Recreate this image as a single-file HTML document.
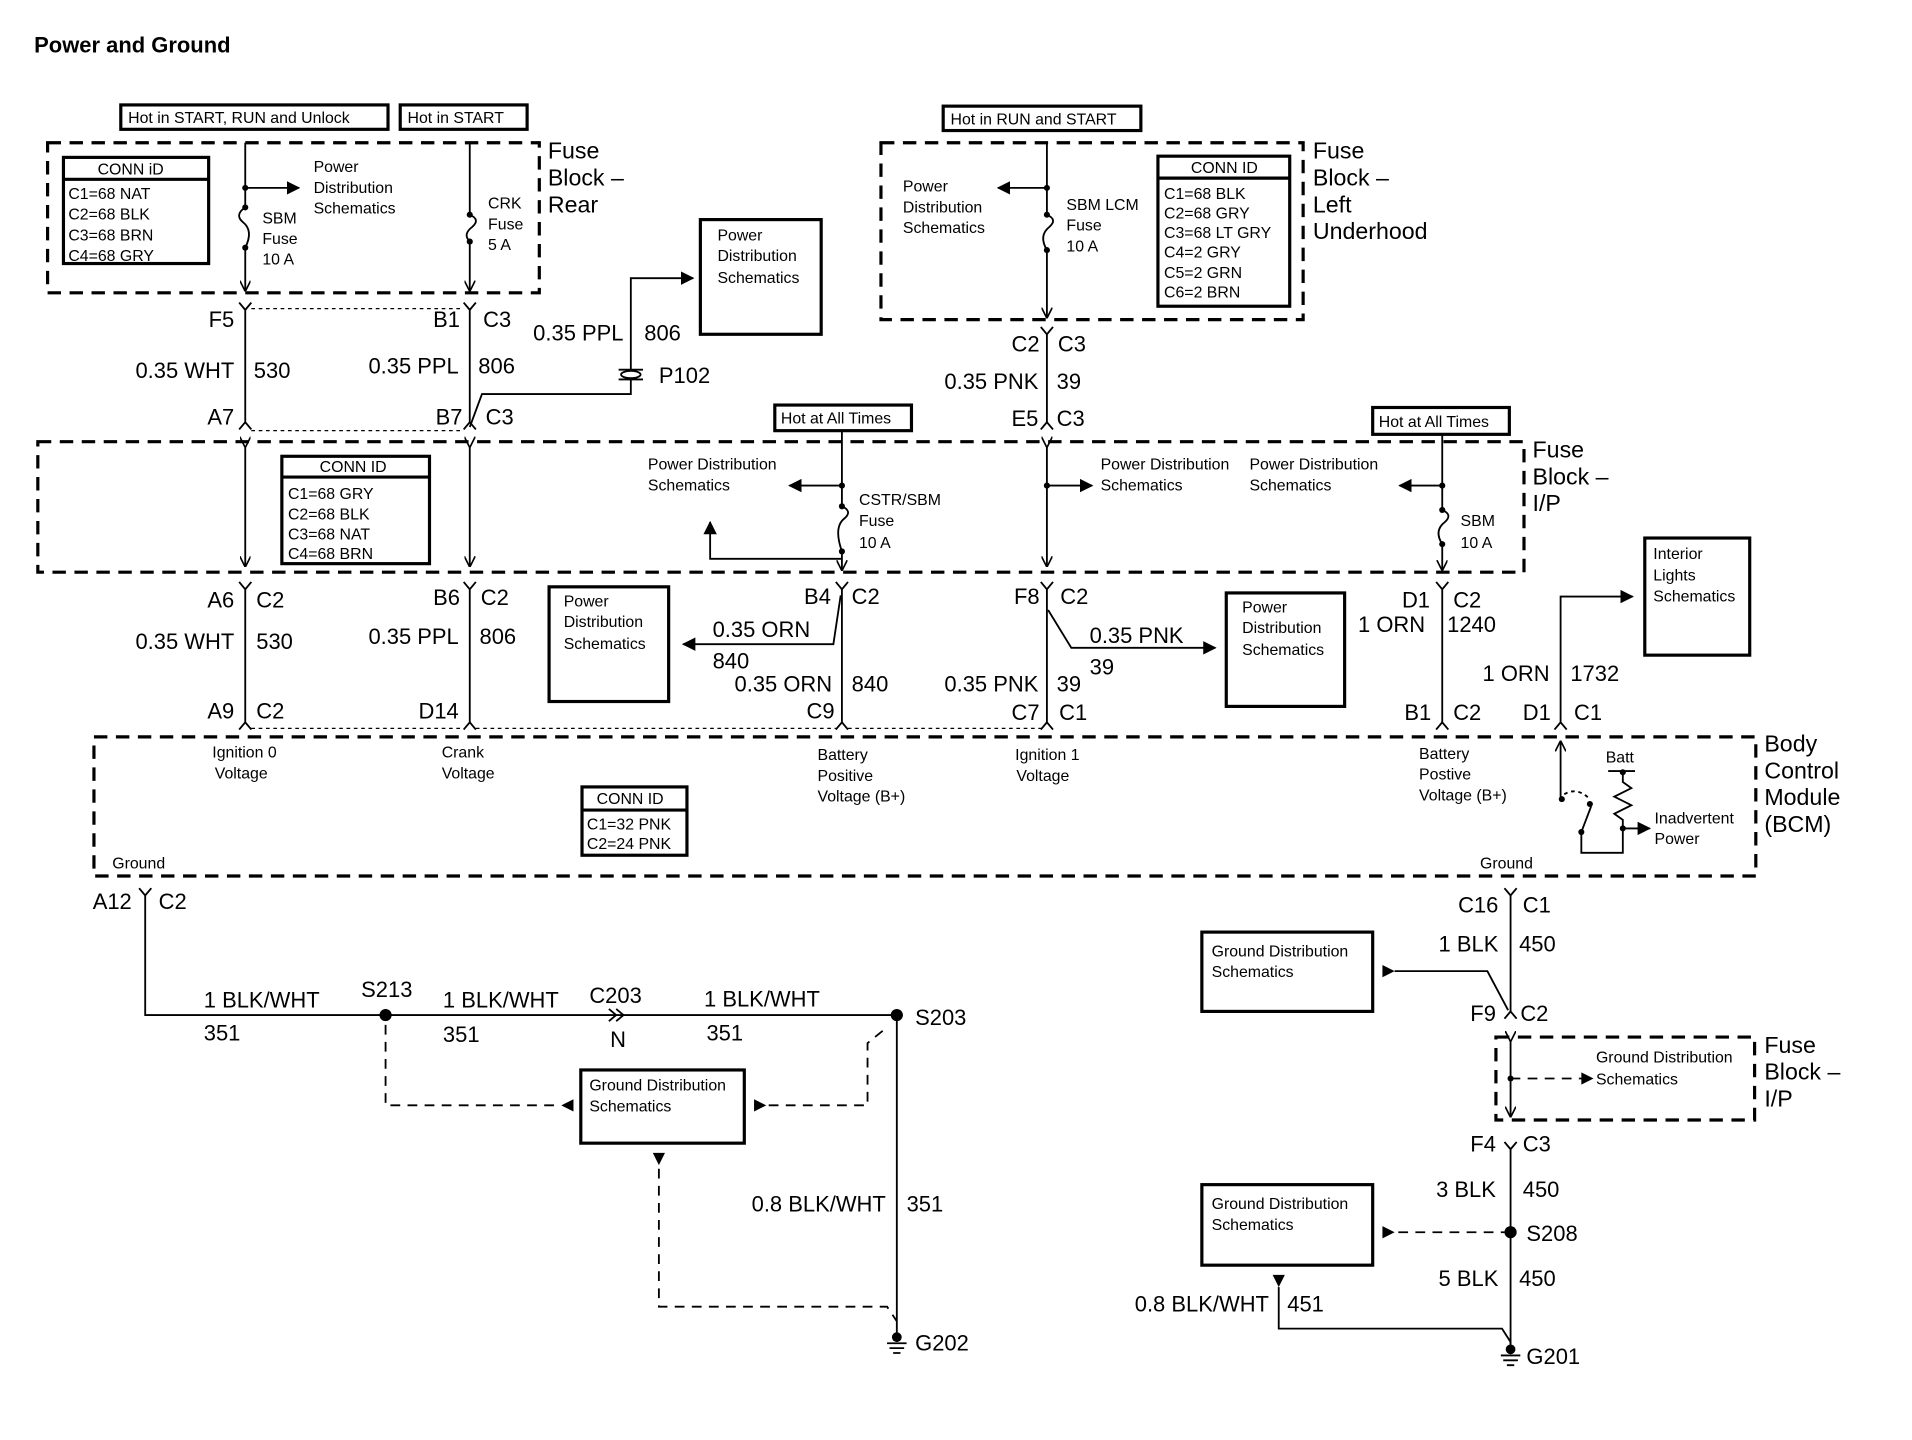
<!DOCTYPE html>
<html><head><meta charset="utf-8"><style>
html,body{margin:0;padding:0;background:#fff;}
svg{display:block;}
text{font-family:"Liberation Sans",Arial,sans-serif;fill:#000;}
.s{font-size:13px;}
.m{font-size:18px;}
.b{font-size:19px;}
.w{stroke:#000;stroke-width:1.5;fill:none;}
.bx{stroke:#000;stroke-width:2.6;fill:none;}
.d{stroke:#000;stroke-width:2.6;fill:none;stroke-dasharray:11 7;}
.dt{stroke:#000;stroke-width:1;fill:none;stroke-dasharray:3 3;}
.dw{stroke:#000;stroke-width:1.5;fill:none;stroke-dasharray:8 6;}
.r{text-anchor:end;}
</style></head><body>
<svg width="1912" height="1440" viewBox="0 0 1567 1180.3" preserveAspectRatio="none" xmlns="http://www.w3.org/2000/svg">
<defs>
<marker id="a" viewBox="0 0 10 10" refX="9" refY="5" markerWidth="11" markerHeight="11" markerUnits="userSpaceOnUse" orient="auto"><path d="M0,0L10,5L0,10z" fill="#000"/></marker>
<marker id="o" viewBox="0 0 10 10" refX="9" refY="5" markerWidth="9" markerHeight="9" markerUnits="userSpaceOnUse" orient="auto"><path d="M0,0L10,5L0,10" fill="none" stroke="#000" stroke-width="1.5"/></marker>
</defs>
<text x="28" y="43" style="font-size:18px;font-weight:bold">Power and Ground</text>

<!-- top left -->
<rect class="bx" x="99" y="86" width="219" height="20"/><text class="s" x="105" y="101">Hot in START, RUN and Unlock</text>
<rect class="bx" x="328" y="86" width="104" height="20"/><text class="s" x="334" y="101">Hot in START</text>
<rect class="d" x="39" y="117" width="403" height="123"/>
<text class="b" x="449" y="130">Fuse</text><text class="b" x="449" y="152">Block –</text><text class="b" x="449" y="174">Rear</text>
<rect class="bx" x="52" y="129" width="119" height="87"/><line class="bx" x1="52" y1="147" x2="171" y2="147"/>
<text class="s" x="80" y="143">CONN iD</text>
<text class="s" x="56" y="163">C1=68 NAT</text><text class="s" x="56" y="180">C2=68 BLK</text><text class="s" x="56" y="197">C3=68 BRN</text><text class="s" x="56" y="214">C4=68 GRY</text>
<path class="w" d="M201,117V170 M201,203V238" marker-end="url(#o)"/>
<path class="w" d="M201,170 q-9,6 -2,12 q9,7 2,21"/>
<circle cx="201" cy="170" r="2.5"/><circle cx="201" cy="203" r="2.5"/><circle cx="201" cy="154" r="2.5"/>
<path class="w" d="M201,154H245" marker-end="url(#a)"/>
<text class="s" x="257" y="141">Power</text><text class="s" x="257" y="158">Distribution</text><text class="s" x="257" y="175">Schematics</text>
<text class="s" x="215" y="183">SBM</text><text class="s" x="215" y="200">Fuse</text><text class="s" x="215" y="217">10 A</text>
<path class="w" d="M385,117V176 M385,198V238" marker-end="url(#o)"/>
<path class="w" d="M385,176 q9,4 2,10 q-8,6 -2,12"/>
<circle cx="385" cy="176" r="2.5"/><circle cx="385" cy="198" r="2.5"/>
<text class="s" x="400" y="171">CRK</text><text class="s" x="400" y="188">Fuse</text><text class="s" x="400" y="205">5 A</text>

<!-- connectors row 1 -->
<path class="w" d="M196,248L201,254L206,248 M201,254V346 M196,352L201,346L206,352"/>
<path class="w" d="M380,248L385,254L390,248 M385,254V346 M380,352L385,346L390,352"/>
<path class="dt" d="M206,253H380 M206,353H380"/>
<text class="m r" x="192" y="268">F5</text>
<text class="m r" x="192" y="310">0.35 WHT</text><text class="m" x="208" y="310">530</text>
<text class="m r" x="192" y="348">A7</text>
<text class="m r" x="377" y="268">B1</text><text class="m" x="396" y="268">C3</text>
<text class="m r" x="376" y="306">0.35 PPL</text><text class="m" x="392" y="306">806</text>
<text class="m r" x="379" y="348">B7</text><text class="m" x="398" y="348">C3</text>
<path class="w" d="M385,350L395,323H517V228H568" marker-end="url(#a)"/>
<path class="w" d="M507,303h20 M507,311h20"/><ellipse cx="517" cy="307" rx="8" ry="3" fill="#fff" stroke="#000" stroke-width="1.5"/>
<text class="m r" x="511" y="279">0.35 PPL</text><text class="m" x="528" y="279">806</text><text class="m" x="540" y="314">P102</text>
<rect class="bx" x="574" y="180" width="99" height="94"/>
<text class="s" x="588" y="197">Power</text><text class="s" x="588" y="214">Distribution</text><text class="s" x="588" y="232">Schematics</text>

<!-- top right -->
<rect class="bx" x="773" y="87" width="162" height="20"/><text class="s" x="779" y="102">Hot in RUN and START</text>
<rect class="d" x="722" y="117" width="346" height="145"/>
<text class="b" x="1076" y="130">Fuse</text><text class="b" x="1076" y="152">Block –</text><text class="b" x="1076" y="174">Left</text><text class="b" x="1076" y="196">Underhood</text>
<path class="w" d="M858,117V176 M858,205V260" marker-end="url(#o)"/>
<path class="w" d="M858,176 q9,4 2,10 q-9,7 -2,19"/>
<circle cx="858" cy="176" r="2.5"/><circle cx="858" cy="205" r="2.5"/><circle cx="858" cy="154" r="2.5"/>
<path class="w" d="M858,154H818" marker-end="url(#a)"/>
<text class="s" x="740" y="157">Power</text><text class="s" x="740" y="174">Distribution</text><text class="s" x="740" y="191">Schematics</text>
<text class="s" x="874" y="172">SBM LCM</text><text class="s" x="874" y="189">Fuse</text><text class="s" x="874" y="206">10 A</text>
<rect class="bx" x="949" y="128" width="108" height="123"/><line class="bx" x1="949" y1="146" x2="1057" y2="146"/>
<text class="s" x="976" y="142">CONN ID</text>
<text class="s" x="954" y="163">C1=68 BLK</text><text class="s" x="954" y="179">C2=68 GRY</text><text class="s" x="954" y="195">C3=68 LT GRY</text><text class="s" x="954" y="211">C4=2 GRY</text><text class="s" x="954" y="228">C5=2 GRN</text><text class="s" x="954" y="244">C6=2 BRN</text>
<path class="w" d="M853,268L858,274L863,268 M858,274V346 M853,352L858,346L863,352"/>
<text class="m r" x="852" y="288">C2</text><text class="m" x="867" y="288">C3</text>
<text class="m r" x="851" y="319">0.35 PNK</text><text class="m" x="866" y="319">39</text>
<text class="m r" x="851" y="349">E5</text><text class="m" x="866" y="349">C3</text>

<!-- I/P fuse block -->
<rect class="d" x="31" y="362" width="1218" height="107"/>
<text class="b" x="1256" y="375">Fuse</text><text class="b" x="1256" y="397">Block –</text><text class="b" x="1256" y="419">I/P</text>
<rect class="bx" x="635" y="332" width="112" height="21"/><text class="s" x="640" y="347">Hot at All Times</text>
<rect class="bx" x="1125" y="334" width="112" height="22"/><text class="s" x="1130" y="350">Hot at All Times</text>
<path class="w" d="M201,366V464" marker-start="url(#o)" marker-end="url(#o)"/>
<path class="w" d="M385,366V464" marker-start="url(#o)" marker-end="url(#o)"/>
<rect class="bx" x="231" y="374" width="121" height="88"/><line class="bx" x1="231" y1="391" x2="352" y2="391"/>
<text class="s" x="262" y="387">CONN ID</text>
<text class="s" x="236" y="409">C1=68 GRY</text><text class="s" x="236" y="426">C2=68 BLK</text><text class="s" x="236" y="442">C3=68 NAT</text><text class="s" x="236" y="458">C4=68 BRN</text>
<path class="w" d="M690,353V415 M690,452V467" marker-end="url(#o)"/>
<path class="w" d="M690,415 q9,4 2,10 q-9,7 -2,27"/>
<circle cx="690" cy="415" r="2.5"/><circle cx="690" cy="452" r="2.5"/><circle cx="690" cy="398" r="2.5"/>
<path class="w" d="M690,398H647" marker-end="url(#a)"/>
<path class="w" d="M690,458H582V428" marker-end="url(#a)"/>
<text class="s" x="531" y="385">Power Distribution</text><text class="s" x="531" y="402">Schematics</text>
<text class="s" x="704" y="414">CSTR/SBM</text><text class="s" x="704" y="431">Fuse</text><text class="s" x="704" y="449">10 A</text>
<path class="w" d="M858,366V464" marker-start="url(#o)" marker-end="url(#o)"/>
<circle cx="858" cy="398" r="2.5"/><path class="w" d="M858,398H895" marker-end="url(#a)"/>
<text class="s" x="902" y="385">Power Distribution</text><text class="s" x="902" y="402">Schematics</text>
<text class="s" x="1024" y="385">Power Distribution</text><text class="s" x="1024" y="402">Schematics</text>
<path class="w" d="M1182,356V418 M1182,446V467" marker-end="url(#o)"/>
<path class="w" d="M1182,418 q9,4 2,10 q-9,7 -2,18"/>
<circle cx="1182" cy="418" r="2.5"/><circle cx="1182" cy="446" r="2.5"/><circle cx="1182" cy="398" r="2.5"/>
<path class="w" d="M1182,398H1147" marker-end="url(#a)"/>
<text class="s" x="1197" y="431">SBM</text><text class="s" x="1197" y="449">10 A</text>

<!-- row 2 -->
<path class="w" d="M196,477L201,483L206,477 M201,483V592 M196,598L201,592L206,598"/>
<path class="w" d="M380,477L385,483L390,477 M385,483V592 M380,598L385,592L390,598"/>
<path class="dt" d="M206,597H380 M390,597H685 M695,597H853"/>
<text class="m r" x="192" y="498">A6</text><text class="m" x="210" y="498">C2</text>
<text class="m r" x="192" y="532">0.35 WHT</text><text class="m" x="210" y="532">530</text>
<text class="m r" x="192" y="589">A9</text><text class="m" x="210" y="589">C2</text>
<text class="m r" x="377" y="496">B6</text><text class="m" x="394" y="496">C2</text>
<text class="m r" x="376" y="528">0.35 PPL</text><text class="m" x="393" y="528">806</text>
<text class="m r" x="376" y="589">D14</text>
<rect class="bx" x="450" y="481" width="98" height="94"/>
<text class="s" x="462" y="497">Power</text><text class="s" x="462" y="514">Distribution</text><text class="s" x="462" y="532">Schematics</text>
<path class="w" d="M685,477L690,483L695,477 M690,483V592 M685,598L690,592L695,598"/>
<path class="w" d="M689,488L683,528H560" marker-end="url(#a)"/>
<text class="m r" x="681" y="495">B4</text><text class="m" x="698" y="495">C2</text>
<text class="m" x="584" y="522">0.35 ORN</text><text class="m" x="584" y="548">840</text>
<text class="m r" x="682" y="567">0.35 ORN</text><text class="m" x="698" y="567">840</text>
<text class="m r" x="684" y="589">C9</text>
<path class="w" d="M853,477L858,483L863,477 M858,483V592 M853,598L858,592L863,598"/>
<path class="w" d="M859,500L878,531H996" marker-end="url(#a)"/>
<text class="m r" x="852" y="495">F8</text><text class="m" x="869" y="495">C2</text>
<text class="m" x="893" y="527">0.35 PNK</text><text class="m" x="893" y="553">39</text>
<text class="m r" x="851" y="567">0.35 PNK</text><text class="m" x="866" y="567">39</text>
<text class="m r" x="852" y="590">C7</text><text class="m" x="868" y="590">C1</text>
<rect class="bx" x="1005" y="486" width="97" height="93"/>
<text class="s" x="1018" y="502">Power</text><text class="s" x="1018" y="519">Distribution</text><text class="s" x="1018" y="537">Schematics</text>
<path class="w" d="M1177,477L1182,483L1187,477 M1182,483V592 M1177,598L1182,592L1187,598"/>
<text class="m r" x="1172" y="498">D1</text><text class="m" x="1191" y="498">C2</text>
<text class="m r" x="1168" y="518">1 ORN</text><text class="m" x="1186" y="518">1240</text>
<text class="m r" x="1173" y="590">B1</text><text class="m" x="1191" y="590">C2</text>
<path class="w" d="M1274,598L1279,592L1284,598 M1279,592V489H1338" marker-end="url(#a)"/>
<text class="m r" x="1270" y="558">1 ORN</text><text class="m" x="1287" y="558">1732</text>
<text class="m r" x="1271" y="590">D1</text><text class="m" x="1290" y="590">C1</text>
<rect class="bx" x="1348" y="441" width="86" height="96"/>
<text class="s" x="1355" y="458">Interior</text><text class="s" x="1355" y="476">Lights</text><text class="s" x="1355" y="493">Schematics</text>

<!-- BCM -->
<rect class="d" x="77" y="604" width="1362" height="114"/>
<text class="b" x="1446" y="616">Body</text><text class="b" x="1446" y="638">Control</text><text class="b" x="1446" y="660">Module</text><text class="b" x="1446" y="682">(BCM)</text>
<text class="s" x="174" y="621">Ignition 0</text><text class="s" x="176" y="638">Voltage</text>
<text class="s" x="362" y="621">Crank</text><text class="s" x="362" y="638">Voltage</text>
<text class="s" x="670" y="623">Battery</text><text class="s" x="670" y="640">Positive</text><text class="s" x="670" y="657">Voltage (B+)</text>
<text class="s" x="832" y="623">Ignition  1</text><text class="s" x="833" y="640">Voltage</text>
<text class="s" x="1163" y="622">Battery</text><text class="s" x="1163" y="639">Postive</text><text class="s" x="1163" y="656">Voltage (B+)</text>
<text class="s" x="92" y="712">Ground</text><text class="s" x="1213" y="712">Ground</text>
<rect class="bx" x="477" y="645" width="86" height="56"/><line class="bx" x1="477" y1="664" x2="563" y2="664"/>
<text class="s" x="489" y="659">CONN ID</text><text class="s" x="481" y="680">C1=32 PNK</text><text class="s" x="481" y="696">C2=24 PNK</text>
<path class="w" d="M1279,654V608" marker-end="url(#o)"/>
<circle cx="1280" cy="655" r="2.5"/>
<path class="dt" d="M1282,651q10,-6 20,3" style="stroke-width:1.5"/>
<circle cx="1303" cy="659" r="2.5"/><circle cx="1296" cy="682" r="2.5"/>
<path class="w" d="M1296,682L1304,661 M1296,682V699H1330V679"/>
<text class="s" x="1316" y="625">Batt</text>
<path class="w" d="M1318,632H1340 M1330,632V641l7,5l-14,7l14,7l-14,7l7,5V679"/>
<circle cx="1330" cy="633" r="2.5"/><circle cx="1330" cy="679" r="2.5"/>
<path class="w" d="M1330,679H1352" marker-end="url(#a)"/>
<text class="s" x="1356" y="675">Inadvertent</text><text class="s" x="1356" y="692">Power</text>

<!-- bottom left -->
<path class="w" d="M114,728L119,734L124,728 M119,734V832H735V1093"/>
<text class="m r" x="108" y="745">A12</text><text class="m" x="130" y="745">C2</text>
<circle cx="316" cy="832" r="5"/><circle cx="735" cy="832" r="5"/>
<text class="m" x="296" y="817">S213</text><text class="m" x="750" y="840">S203</text>
<text class="m" x="167" y="826">1 BLK/WHT</text><text class="m" x="167" y="853">351</text>
<text class="m" x="363" y="826">1 BLK/WHT</text><text class="m" x="363" y="854">351</text>
<text class="m" x="577" y="825">1 BLK/WHT</text><text class="m" x="579" y="853">351</text>
<text class="m" x="483" y="822">C203</text><text class="m" x="500" y="858">N</text>
<path d="M499,827l6,5l-6,5 M505,827l6,5l-6,5" stroke="#000" stroke-width="1.5" fill="none"/>
<path class="dw" d="M316,840V906H460"/><path d="M470,901L460,906L470,911z"/>
<rect class="bx" x="476" y="877" width="134" height="60"/>
<text class="s" x="483" y="894">Ground Distribution</text><text class="s" x="483" y="911">Schematics</text>
<path d="M618,901L628,906L618,911z"/><path class="dw" d="M630,906H711V855L727,842"/>
<path d="M535,945L545,945L540,955z"/><path class="dw" d="M540,958V1071H727L735,1083"/>
<text class="m r" x="726" y="993">0.8 BLK/WHT</text><text class="m" x="743" y="993">351</text>
<path d="M735,1093v7" stroke="#000" stroke-width="1.5"/><circle cx="735" cy="1096" r="4"/>
<path class="w" d="M727,1101h16 M729,1105h12 M732,1109h6"/>
<text class="m" x="750" y="1107">G202</text>

<!-- bottom right -->
<path class="w" d="M1233,728L1238,734L1243,728 M1238,734V829 M1233,835L1238,829L1243,835 M1233,936L1238,942L1243,936 M1238,942V1103"/>
<text class="m r" x="1228" y="748">C16</text><text class="m" x="1248" y="748">C1</text>
<text class="m r" x="1228" y="780">1 BLK</text><text class="m" x="1245" y="780">450</text>
<rect class="bx" x="985" y="764" width="140" height="65"/>
<text class="s" x="993" y="784">Ground Distribution</text><text class="s" x="993" y="801">Schematics</text>
<path d="M1133,791L1143,796L1133,801z"/><path class="w" d="M1143,796H1219L1236,828"/>
<text class="m r" x="1226" y="837">F9</text><text class="m" x="1246" y="837">C2</text>
<rect class="d" x="1226" y="850" width="212" height="68"/>
<path class="w" d="M1238,853V915" marker-start="url(#o)" marker-end="url(#o)"/>
<circle cx="1238" cy="884" r="2.5"/><path class="dw" d="M1238,884H1300"/><path d="M1296,879L1306,884L1296,889z"/>
<text class="s" x="1308" y="871">Ground Distribution</text><text class="s" x="1308" y="889">Schematics</text>
<text class="b" x="1446" y="863">Fuse</text><text class="b" x="1446" y="885">Block –</text><text class="b" x="1446" y="907">I/P</text>
<text class="m r" x="1226" y="944">F4</text><text class="m" x="1248" y="944">C3</text>
<text class="m r" x="1226" y="981">3 BLK</text><text class="m" x="1248" y="981">450</text>
<circle cx="1238" cy="1010" r="5"/><text class="m" x="1251" y="1017">S208</text>
<rect class="bx" x="985" y="971" width="140" height="66"/>
<text class="s" x="993" y="991">Ground Distribution</text><text class="s" x="993" y="1008">Schematics</text>
<path d="M1133,1005L1143,1010L1133,1015z"/><path class="dw" d="M1146,1010H1233"/>
<text class="m r" x="1228" y="1054">5 BLK</text><text class="m" x="1245" y="1054">450</text>
<path d="M1043,1045L1053,1045L1048,1055z"/><path class="w" d="M1048,1055V1089H1231L1238,1100"/>
<text class="m r" x="1040" y="1075">0.8 BLK/WHT</text><text class="m" x="1055" y="1075">451</text>
<path d="M1238,1100v6" stroke="#000" stroke-width="1.5"/><circle cx="1238" cy="1106" r="4"/>
<path class="w" d="M1230,1111h16 M1232,1115h12 M1235,1119h6"/>
<text class="m" x="1251" y="1118">G201</text>
</svg>
</body></html>
